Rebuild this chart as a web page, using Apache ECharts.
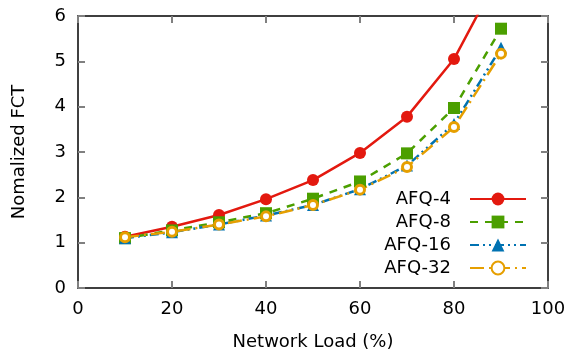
<!DOCTYPE html>
<html>
<head>
<meta charset="utf-8">
<script src="https://cdn.jsdelivr.net/npm/echarts@6/dist/echarts.min.js"></script>
<style>
  html, body { margin: 0; padding: 0; background: #fff; }
  #chart { width: 569px; height: 352px; }
</style>
</head>
<body>
<div id="chart"></div>
<script>
// network load (%) on the x axis
const loads = [10, 20, 30, 40, 50, 60, 70, 80, 90];

// normalized FCT per queue count
const afq4 = [1.13, 1.35, 1.61, 1.96, 2.38, 2.98, 3.78, 5.05, 7.0];
const afq8 = [1.10, 1.27, 1.45, 1.65, 1.97, 2.35, 2.97, 3.97, 5.72];
const afq16 = [1.10, 1.23, 1.40, 1.60, 1.83, 2.18, 2.70, 3.62, 5.30];
const afq32 = [1.12, 1.24, 1.40, 1.58, 1.83, 2.17, 2.67, 3.55, 5.17];

const seriesNames = ['AFQ-4', 'AFQ-8', 'AFQ-16', 'AFQ-32'];

const font = 'DejaVu Sans';
const chart = echarts.init(document.getElementById('chart'));

const pairs = vals => vals.map((v, i) => [loads[i], v]);

// all four sides are framed; negative tick length points the ticks inwards
const frameTick = () => ({ show: true, length: -7, lineStyle: { color: '#808080', width: 2 } });
const frameLine = () => ({ show: true, onZero: false, lineStyle: { color: '#000', width: 1.5 } });

chart.setOption({
    animation: false,
    grid: { left: 78, right: 21, top: 16, bottom: 64, outerBoundsMode: 'none' },
    xAxis: [
        {
            type: 'value',
            min: 0,
            max: 100,
            interval: 20,
            name: 'Network Load (%)',
            nameLocation: 'middle',
            nameGap: 45,
            nameTextStyle: { fontFamily: font, fontSize: 18, color: '#000' },
            axisLine: frameLine(),
            axisTick: frameTick(),
            axisLabel: { fontFamily: font, fontSize: 18, color: '#000', margin: 12 },
            splitLine: { show: false },
        },
        {
            type: 'value',
            position: 'top',
            min: 0,
            max: 100,
            interval: 20,
            axisLine: frameLine(),
            axisTick: frameTick(),
            axisLabel: { show: false },
            splitLine: { show: false },
        },
    ],
    yAxis: [
        {
            type: 'value',
            min: 0,
            max: 6,
            interval: 1,
            name: 'Nomalized FCT',
            nameLocation: 'middle',
            nameRotate: 90,
            nameGap: 50,
            nameTextStyle: { fontFamily: font, fontSize: 18, color: '#000' },
            axisLine: frameLine(),
            axisTick: frameTick(),
            axisLabel: { fontFamily: font, fontSize: 18, color: '#000', margin: 12 },
            splitLine: { show: false },
        },
        {
            type: 'value',
            position: 'right',
            min: 0,
            max: 6,
            interval: 1,
            axisLine: frameLine(),
            axisTick: frameTick(),
            axisLabel: { show: false },
            splitLine: { show: false },
        },
    ],
    legend: {
        orient: 'vertical',
        right: 37,
        top: 185,
        align: 'right',
        itemWidth: 56,
        itemHeight: 16,
        itemGap: 5,
        textStyle: { fontFamily: font, fontSize: 18, color: '#000', padding: [0, 14, 0, 0] },
        data: seriesNames,
    },
    series: [
        {
            name: 'AFQ-4',
            type: 'line',
            data: pairs(afq4),
            symbol: 'circle',
            symbolSize: 12,
            lineStyle: { color: '#e3190f', width: 2.5, type: 'solid' },
            itemStyle: { color: '#e3190f' },
        },
        {
            name: 'AFQ-8',
            type: 'line',
            data: pairs(afq8),
            symbol: 'rect',
            symbolSize: 12,
            lineStyle: { color: '#4b9f00', width: 2.5, type: [8, 7] },
            itemStyle: { color: '#4b9f00' },
        },
        {
            name: 'AFQ-16',
            type: 'line',
            data: pairs(afq16),
            symbol: 'triangle',
            symbolSize: 12,
            lineStyle: { color: '#0072b2', width: 2.5, type: [9, 4, 2, 4, 2, 4] },
            itemStyle: { color: '#0072b2' },
        },
        {
            name: 'AFQ-32',
            type: 'line',
            data: pairs(afq32),
            symbol: 'circle',
            symbolSize: 9,
            lineStyle: { color: '#e69f00', width: 2.5, type: [14, 5, 2, 5] },
            itemStyle: { color: '#fff', borderColor: '#e69f00', borderWidth: 3 },
        },
    ],
});
</script>
</body>
</html>
